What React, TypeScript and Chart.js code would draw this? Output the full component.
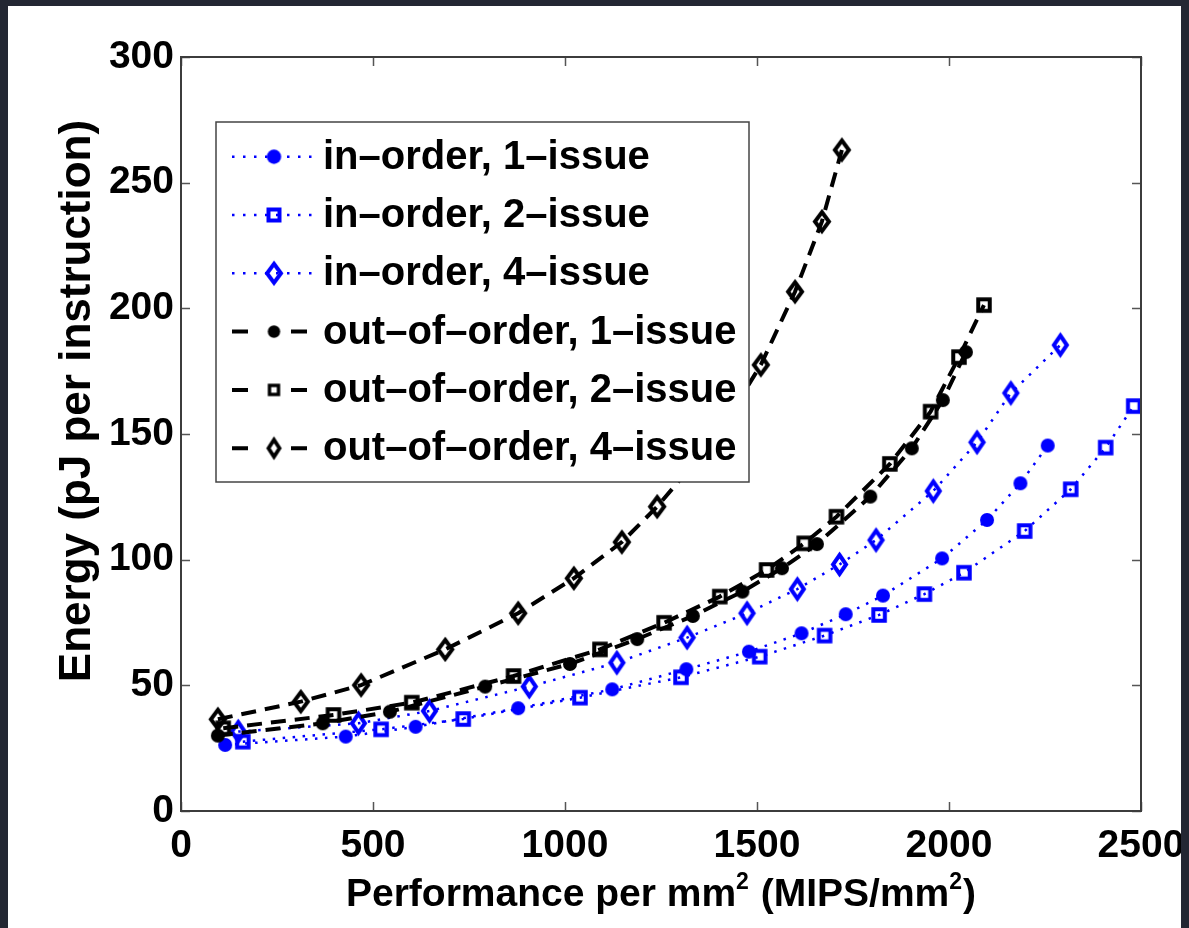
import React, { useEffect, useRef } from 'react';
import { Chart, registerables } from 'chart.js';

Chart.register(...registerables);

// Axis ticks
const xTicks = [0, 500, 1000, 1500, 2000, 2500];
const yTicks = [0, 50, 100, 150, 200, 250, 300];

// Series labels (legend order)
const seriesLabels = [
  'in–order, 1–issue',
  'in–order, 2–issue',
  'in–order, 4–issue',
  'out–of–order, 1–issue',
  'out–of–order, 2–issue',
  'out–of–order, 4–issue',
];

// Performance per mm² (MIPS/mm²) and energy (pJ per instruction)
const inOrder1X = [115, 429, 611, 878, 1123, 1316, 1479, 1616, 1731, 1828, 1982, 2099, 2186, 2257];
const inOrder1Y = [26.3, 29.6, 33.5, 40.9, 48.4, 56.4, 63.4, 70.7, 78.3, 85.7, 100.5, 115.8, 130.4, 145.4];

const inOrder2X = [161, 521, 735, 1039, 1302, 1507, 1676, 1818, 1936, 2039, 2197, 2317, 2408, 2481];
const inOrder2Y = [27.6, 32.5, 36.6, 45.1, 53.2, 61.4, 69.8, 78.0, 86.3, 94.8, 111.4, 128.0, 144.6, 161.1];

const inOrder4X = [149, 462, 647, 907, 1135, 1318, 1474, 1605, 1715, 1810, 1959, 2073, 2161, 2290];
const inOrder4Y = [31.6, 34.9, 39.8, 49.5, 59.0, 69.0, 78.7, 88.3, 98.1, 107.8, 127.3, 146.7, 166.3, 185.4];

const ooo1X = [96, 369, 544, 792, 1013, 1188, 1333, 1462, 1565, 1656, 1795, 1903, 1984, 2044];
const ooo1Y = [30.0, 34.9, 39.5, 49.5, 58.5, 68.4, 77.6, 87.3, 96.6, 106.2, 125.1, 144.3, 163.5, 182.6];

const ooo2X = [110, 397, 601, 866, 1091, 1258, 1403, 1525, 1623, 1707, 1846, 1952, 2026, 2091];
const ooo2Y = [32.9, 38.2, 43.1, 53.7, 64.3, 74.9, 85.3, 95.9, 106.5, 117.1, 138.1, 158.9, 180.6, 201.3];

const ooo4X = [96, 312, 469, 688, 878, 1023, 1148, 1240, 1395, 1510, 1599, 1669, 1721];
const ooo4Y = [36.5, 43.5, 50.1, 64.3, 78.7, 92.6, 107.0, 121.1, 149.0, 177.5, 206.6, 234.5, 263.0];

const BLUE = '#0000ff';
const BLACK = '#000000';
const FONT_FAMILY = '"Liberation Sans", Arial, Helvetica, sans-serif';

const pairs = (xs: number[], ys: number[]) => xs.map((x, i) => ({ x, y: ys[i] }));

function diamondMarker(w: number, h: number, lw: number, color: string) {
  const pad = Math.ceil(lw) + 3;
  const c = document.createElement('canvas');
  c.width = Math.ceil(w + 2 * pad);
  c.height = Math.ceil(h + 2 * pad);
  const g = c.getContext('2d')!;
  const cx = c.width / 2;
  const cy = c.height / 2;
  g.beginPath();
  g.moveTo(cx, cy - h / 2);
  g.lineTo(cx + w / 2, cy);
  g.lineTo(cx, cy + h / 2);
  g.lineTo(cx - w / 2, cy);
  g.closePath();
  g.lineWidth = lw;
  g.lineJoin = 'miter';
  g.strokeStyle = color;
  g.stroke();
  return c;
}

function squareMarker(side: number, lw: number, color: string) {
  const pad = Math.ceil(lw) + 2;
  const c = document.createElement('canvas');
  c.width = Math.ceil(side + 2 * pad);
  c.height = Math.ceil(side + 2 * pad);
  const g = c.getContext('2d')!;
  const cx = c.width / 2;
  const cy = c.height / 2;
  g.lineWidth = lw;
  g.strokeStyle = color;
  g.strokeRect(cx - side / 2, cy - side / 2, side, side);
  return c;
}

function circleMarker(r: number, color: string) {
  const c = document.createElement('canvas');
  const size = Math.ceil(2 * r + 4);
  c.width = size;
  c.height = size;
  const g = c.getContext('2d')!;
  g.beginPath();
  g.arc(size / 2, size / 2, r, 0, Math.PI * 2);
  g.fillStyle = color;
  g.fill();
  return c;
}

export default function App() {
  const ref = useRef<HTMLCanvasElement>(null);

  useEffect(() => {
    const canvas = ref.current;
    if (!canvas) return;

    const markers = {
      io1: circleMarker(7, BLUE),
      io2: squareMarker(11.5, 4, BLUE),
      io4: diamondMarker(13, 19, 4, BLUE),
      oo1: circleMarker(7, BLACK),
      oo2: squareMarker(11.5, 4, BLACK),
      oo4: diamondMarker(14, 19, 4, BLACK),
    };
    const legendMarkers = [
      circleMarker(7.2, BLUE),
      squareMarker(11, 4, BLUE),
      diamondMarker(14, 19, 4, BLUE),
      circleMarker(6.2, BLACK),
      squareMarker(9, 3.4, BLACK),
      diamondMarker(11, 17, 3.8, BLACK),
    ];

    const dotted = { borderColor: BLUE, borderWidth: 2.5, borderDash: [2.5, 7.5] };
    const dashed = { borderColor: BLACK, borderWidth: 4, borderDash: [15, 9] };

    const datasets: any[] = [
      { label: seriesLabels[0], data: pairs(inOrder1X, inOrder1Y), ...dotted, pointStyle: markers.io1, order: 6 },
      { label: seriesLabels[1], data: pairs(inOrder2X, inOrder2Y), ...dotted, pointStyle: markers.io2, order: 5 },
      { label: seriesLabels[2], data: pairs(inOrder4X, inOrder4Y), ...dotted, pointStyle: markers.io4, order: 4 },
      { label: seriesLabels[3], data: pairs(ooo1X, ooo1Y), ...dashed, pointStyle: markers.oo1, order: 3 },
      { label: seriesLabels[4], data: pairs(ooo2X, ooo2Y), ...dashed, pointStyle: markers.oo2, order: 2 },
      { label: seriesLabels[5], data: pairs(ooo4X, ooo4Y), ...dashed, pointStyle: markers.oo4, order: 1 },
    ].map((d) => ({ ...d, fill: false, tension: 0, pointRadius: 7, pointHoverRadius: 7, clip: false }));

    const tickFont = { family: FONT_FAMILY, size: 39, weight: 'bold' as const };

    // Box, inward ticks, legend and axis titles
    const decorations = {
      id: 'decorations',
      afterDraw(chart: any) {
        const { ctx, chartArea: a } = chart;
        const xs = chart.scales.x;
        const ys = chart.scales.y;
        ctx.save();

        // inward tick marks on all four sides
        ctx.strokeStyle = '#555';
        ctx.lineWidth = 1.5;
        const tl = 9;
        ctx.beginPath();
        xTicks.forEach((v) => {
          const px = Math.round(xs.getPixelForValue(v)) + 0.5;
          ctx.moveTo(px, a.bottom);
          ctx.lineTo(px, a.bottom - tl);
          ctx.moveTo(px, a.top);
          ctx.lineTo(px, a.top + tl);
        });
        yTicks.forEach((v) => {
          const py = Math.round(ys.getPixelForValue(v)) + 0.5;
          ctx.moveTo(a.left, py);
          ctx.lineTo(a.left + tl, py);
          ctx.moveTo(a.right, py);
          ctx.lineTo(a.right - tl, py);
        });
        ctx.stroke();

        // axes box
        ctx.strokeStyle = '#3c3c3c';
        ctx.lineWidth = 2;
        ctx.strokeRect(a.left, a.top, a.right - a.left, a.bottom - a.top);

        // legend
        const lx = 208;
        const ly = 116;
        const lw = 533;
        const lh = 360;
        ctx.fillStyle = '#fff';
        ctx.fillRect(lx, ly, lw, lh);
        ctx.strokeStyle = '#444';
        ctx.lineWidth = 1.5;
        ctx.strokeRect(lx, ly, lw, lh);

        ctx.font = `bold 40px ${FONT_FAMILY}`;
        ctx.textBaseline = 'middle';
        ctx.textAlign = 'left';
        chart.data.datasets.forEach((ds: any, i: number) => {
          const cy = 150.7 + 58.3 * i;
          const isDotted = i < 3;
          ctx.save();
          ctx.strokeStyle = ds.borderColor;
          if (isDotted) {
            ctx.lineWidth = 2.5;
            ctx.setLineDash([2.5, 8.5]);
            ctx.beginPath();
            ctx.moveTo(224, cy);
            ctx.lineTo(305, cy);
            ctx.stroke();
          } else {
            ctx.lineWidth = 4;
            ctx.setLineDash([16, 43]);
            ctx.beginPath();
            ctx.moveTo(224, cy);
            ctx.lineTo(299, cy);
            ctx.stroke();
          }
          ctx.restore();
          const m = legendMarkers[i];
          ctx.drawImage(m, 266 - m.width / 2, cy - m.height / 2);
          ctx.fillStyle = '#000';
          ctx.fillText(ds.label, 315, cy + 1);
        });

        // x-axis title with superscripts
        const main = `bold 39px ${FONT_FAMILY}`;
        const sup = `bold 23px ${FONT_FAMILY}`;
        const parts: [string, boolean][] = [
          ['Performance per mm', false],
          ['2', true],
          [' (MIPS/mm', false],
          ['2', true],
          [')', false],
        ];
        let total = 0;
        parts.forEach(([t, s]) => {
          ctx.font = s ? sup : main;
          total += ctx.measureText(t).width + (s ? 1 : 0);
        });
        let tx = (a.left + a.right) / 2 - total / 2;
        const base = 900;
        ctx.fillStyle = '#000';
        ctx.textBaseline = 'alphabetic';
        parts.forEach(([t, s]) => {
          ctx.font = s ? sup : main;
          ctx.fillText(t, tx, s ? base - 17 : base);
          tx += ctx.measureText(t).width + (s ? 1 : 0);
        });

        // y-axis title
        ctx.save();
        ctx.translate(70, 395);
        ctx.rotate(-Math.PI / 2);
        ctx.font = `bold 44px ${FONT_FAMILY}`;
        ctx.textAlign = 'center';
        ctx.textBaseline = 'middle';
        ctx.fillText('Energy (pJ per instruction)', 0, 0);
        ctx.restore();

        ctx.restore();
      },
    };

    const chart = new Chart(canvas, {
      type: 'line',
      data: { datasets },
      options: {
        responsive: false,
        animation: false,
        events: [],
        layout: { padding: { top: 51, right: 40, left: 0, bottom: 0 } },
        plugins: { legend: { display: false }, tooltip: { enabled: false } },
        scales: {
          x: {
            type: 'linear',
            min: 0,
            max: 2500,
            afterBuildTicks: (s: any) => {
              s.ticks = xTicks.map((value) => ({ value }));
            },
            afterFit: (s: any) => {
              s.height = 117;
              s.paddingLeft = 0;
              s.paddingRight = 0;
            },
            grid: { display: false, drawTicks: false },
            border: { display: false },
            ticks: {
              font: tickFont,
              color: '#000',
              padding: 12,
              maxRotation: 0,
              autoSkip: false,
              callback: (v: any) => String(v),
            },
          },
          y: {
            type: 'linear',
            min: 0,
            max: 300,
            afterBuildTicks: (s: any) => {
              s.ticks = yTicks.map((value) => ({ value }));
            },
            afterFit: (s: any) => {
              s.width = 173;
              s.paddingTop = 0;
              s.paddingBottom = 0;
            },
            grid: { display: false, drawTicks: false },
            border: { display: false },
            ticks: {
              font: tickFont,
              color: '#000',
              padding: 7,
              autoSkip: false,
              callback: (v: any) => String(v),
            },
          },
        },
      },
      plugins: [decorations],
    } as any);

    return () => chart.destroy();
  }, []);

  return (
    <div style={{ position: 'fixed', inset: 0, background: '#232733' }}>
      <div style={{ position: 'absolute', left: 8, top: 6, width: 1173, height: 922, background: '#fff' }}>
        <canvas ref={ref} width={1173} height={922} style={{ display: 'block', width: 1173, height: 922 }} />
      </div>
    </div>
  );
}
